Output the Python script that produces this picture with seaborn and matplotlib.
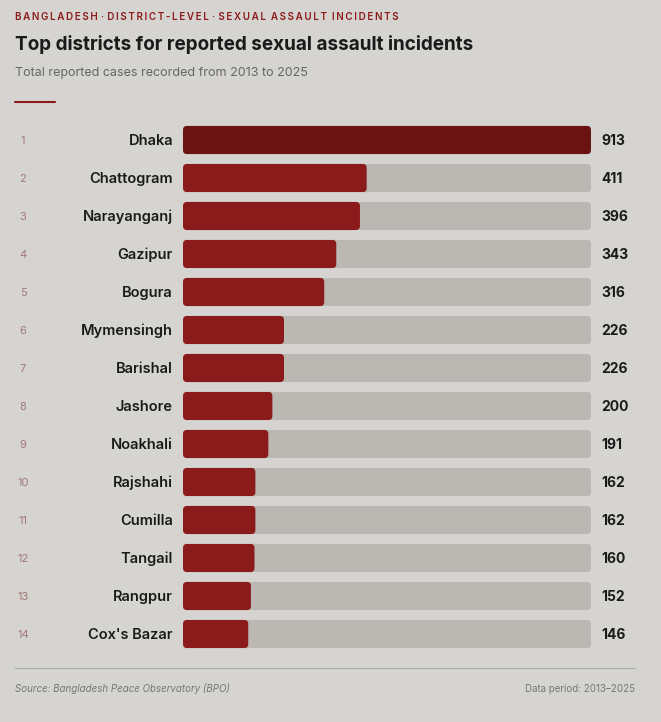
import numpy as np
import pandas as pd
import matplotlib
matplotlib.use("Agg")
import matplotlib.pyplot as plt
import matplotlib.transforms as mtransforms
from matplotlib.patches import FancyBboxPatch
import seaborn as sns

# ==========================================
# DATA
# ==========================================

districts = [
    "Dhaka", "Chattogram", "Narayanganj", "Gazipur", "Bogura",
    "Mymensingh", "Barishal", "Jashore", "Noakhali", "Rajshahi",
    "Cumilla", "Tangail", "Rangpur", "Cox's Bazar",
]
cases = [913, 411, 396, 343, 316, 226, 226, 200, 191, 162, 162, 160, 152, 146]
ranks = list(range(1, len(districts) + 1))

df = pd.DataFrame({"District": districts, "Cases": cases, "Rank": ranks})
df["Track"] = max(cases)

# ==========================================
# STYLE
# ==========================================

BG = "#d6d4d0"
TRACK = "#bbb8b3"
BAR = "#8b1a1a"
TOP_BAR = "#6b1212"
INK = "#1a1a1a"

sns.set_theme(style="white")
plt.rcParams["font.family"] = ["Inter", "DejaVu Sans"]

W, H = 661, 722
fig = plt.figure(figsize=(W / 100, H / 100), dpi=100, facecolor=BG)

# axes placed in pixel terms: x 183..591, rows centred 140..634 (38 px apart)
ax_left, ax_right = 183, 591
ax_top, ax_bottom = 121, 653
ax = fig.add_axes([
    ax_left / W,
    1 - ax_bottom / H,
    (ax_right - ax_left) / W,
    (ax_bottom - ax_top) / H,
])
ax.set_facecolor(BG)

# ==========================================
# BARS
# ==========================================

sns.barplot(data=df, y="District", x="Track", color=TRACK,
            width=0.74, orient="h", ax=ax, saturation=1)
n_track = len(ax.patches)
sns.barplot(data=df, y="District", x="Cases", color=BAR,
            width=0.74, orient="h", ax=ax, saturation=1)

ax.set_xlim(0, max(cases))
ax.set_ylim(len(districts) - 0.5, -0.5)

# swap plain rectangles for rounded ones
px_x = max(cases) / (ax_right - ax_left)
px_y = 1 / 38
radius = 4 * px_x
aspect = px_y / px_x

old = list(ax.patches)
for i, p in enumerate(old):
    x0, y0 = p.get_x(), p.get_y()
    w, h = p.get_width(), p.get_height()
    fc = p.get_facecolor()
    if i == n_track:
        fc = TOP_BAR
    rb = FancyBboxPatch(
        (x0, y0), w, h,
        boxstyle=f"round,pad=0,rounding_size={radius}",
        mutation_aspect=aspect,
        facecolor=fc, edgecolor="none", zorder=2 if i >= n_track else 1,
    )
    p.remove()
    ax.add_patch(rb)

ax.set_xlabel("")
ax.set_ylabel("")
ax.set_xticks([])
ax.set_yticks([])
for s in ax.spines.values():
    s.set_visible(False)

# ==========================================
# ROW LABELS
# ==========================================

tr = mtransforms.blended_transform_factory(fig.transFigure, ax.transData)
for i, (d, c, r) in enumerate(zip(districts, cases, ranks)):
    ax.text(23 / W, i + 0.02, str(r), transform=tr, ha="center", va="center",
            fontsize=8, color="#a07878", clip_on=False)
    ax.text(173 / W, i + 0.02, d, transform=tr, ha="right", va="center",
            fontsize=10.5, fontweight="semibold", color=INK, clip_on=False)
    ax.text(601 / W, i + 0.02, str(c), transform=tr, ha="left", va="center",
            fontsize=10, fontweight="bold", color=INK, clip_on=False)

# ==========================================
# HEADER + FOOTER
# ==========================================

def fy(px):
    return 1 - px / H

def spaced(s):
    return "\u2009".join("\u2009" if ch == " " else ch for ch in s)

header = "\u2009\u2009·\u2009\u2009".join(
    spaced(w) for w in ["BANGLADESH", "DISTRICT-LEVEL", "SEXUAL ASSAULT INCIDENTS"]
)

fig.text(15 / W, fy(17), header,
         fontsize=7.1, fontweight="semibold", color=BAR, va="center", ha="left")
fig.text(15 / W, fy(45), "Top districts for reported sexual assault incidents",
         fontsize=13.6, fontweight="bold", color=INK, va="center", ha="left")
fig.text(15 / W, fy(73), "Total reported cases recorded from 2013 to 2025",
         fontsize=9, color="#666666", va="center", ha="left")

fig.add_artist(plt.Line2D([15 / W, 55 / W], [fy(102), fy(102)],
                          color=BAR, lw=1.5, transform=fig.transFigure))
fig.add_artist(plt.Line2D([15 / W, 635 / W], [fy(668), fy(668)],
                          color="#aaaaaa", lw=0.8, transform=fig.transFigure))

fig.text(15 / W, fy(689), "Source: Bangladesh Peace Observatory (BPO)",
         fontsize=7, fontstyle="italic", color="#777777", va="center", ha="left")
fig.text(635 / W, fy(689), "Data period: 2013\u20132025",
         fontsize=7, color="#777777", va="center", ha="right")

fig.savefig("out.png", dpi=100, facecolor=BG)
